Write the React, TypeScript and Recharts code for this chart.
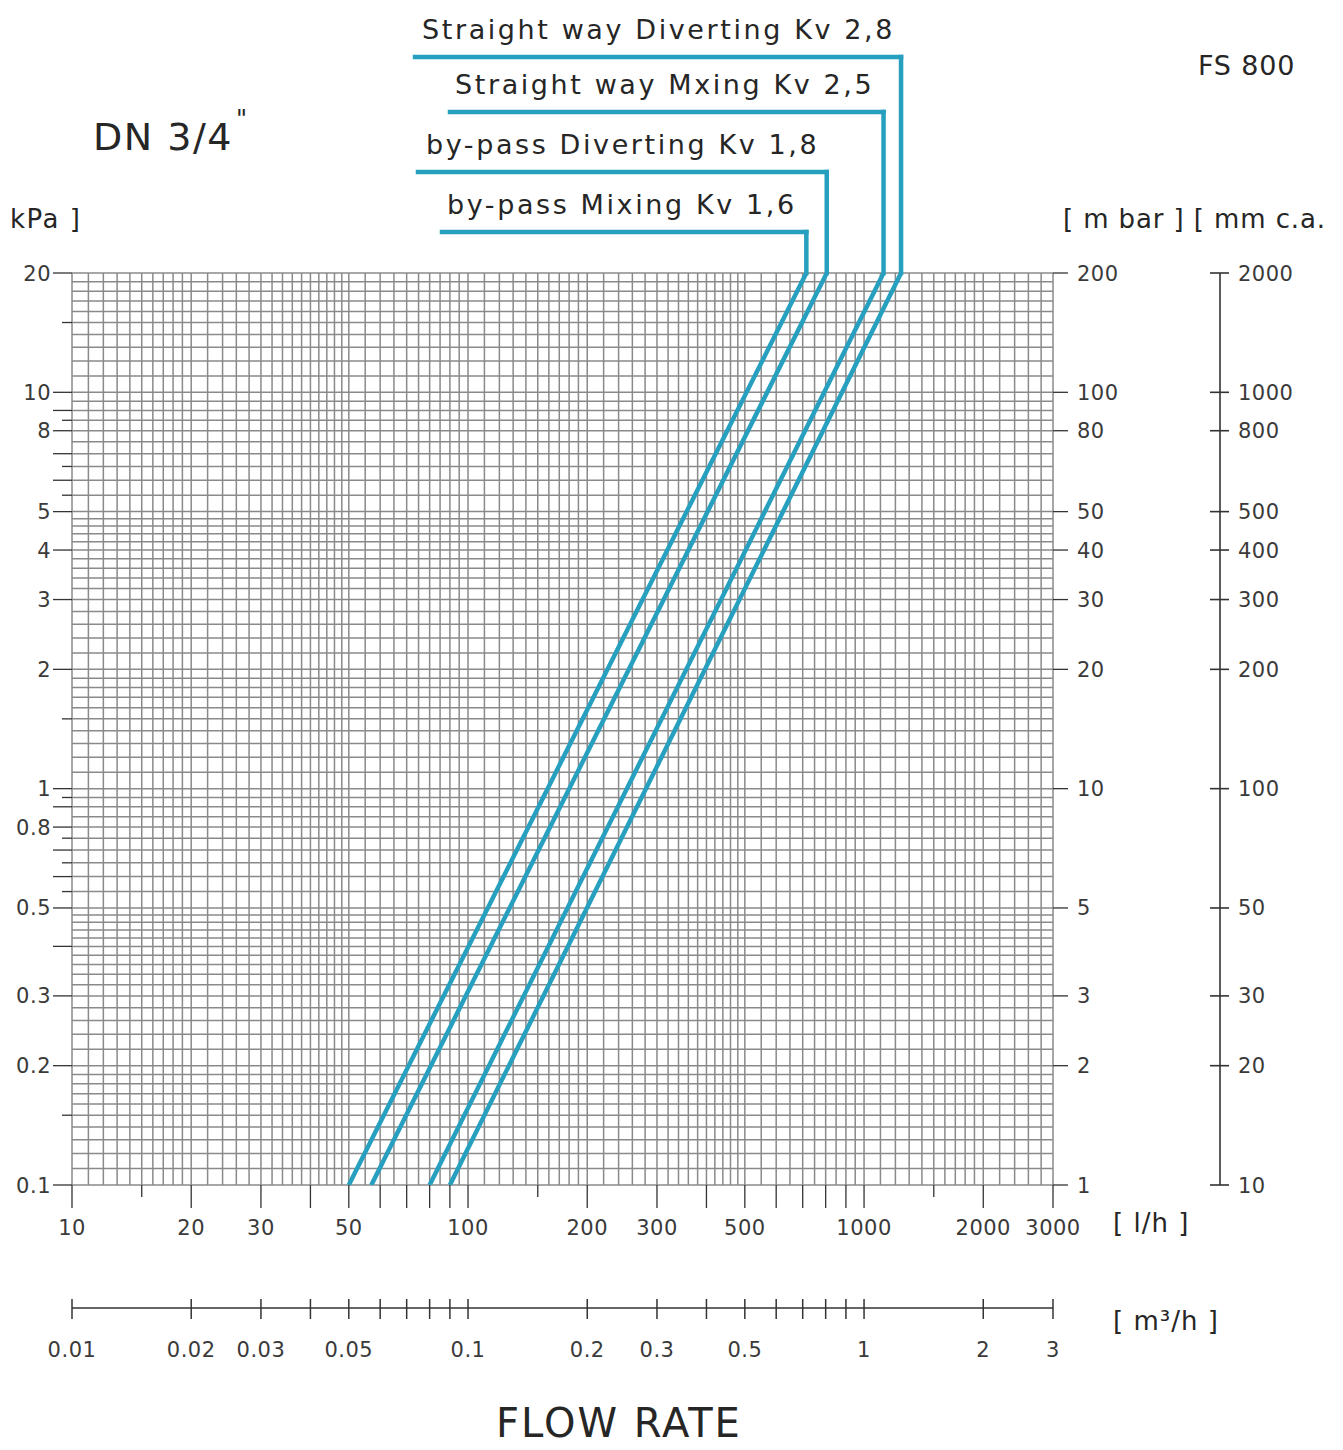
import React from 'react';
import { ComposedChart, Line, XAxis, YAxis, CartesianGrid, ReferenceLine } from 'recharts';

// flow [l/h] vs pressure drop [kPa], end points (straight on log-log)
const bypassMixing = [
  { q: 50, dp: 0.1 },
  { q: 715, dp: 20 },
];
const bypassDiverting = [
  { q: 57, dp: 0.1 },
  { q: 805, dp: 20 },
];
const straightMixing = [
  { q: 80, dp: 0.1 },
  { q: 1120, dp: 20 },
];
const straightDiverting = [
  { q: 90, dp: 0.1 },
  { q: 1240, dp: 20 },
];

const seriesNames = [
  'by-pass Mixing Kv 1,6',
  'by-pass Diverting Kv 1,8',
  'Straight way Mxing Kv 2,5',
  'Straight way Diverting Kv 2,8',
];
const seriesData = [bypassMixing, bypassDiverting, straightMixing, straightDiverting];

const flowDomain = [10, 3000];
const kpaDomain = [0.1, 20];
const mbarDomain = [1, 200];
const mmcaDomain = [10, 2000];
const m3hDomain = [0.01, 3];

// log paper subdivisions inside one decade
const gridSteps = [
  1, 1.1, 1.2, 1.3, 1.4, 1.5, 1.6, 1.7, 1.8, 1.9,
  2, 2.2, 2.4, 2.6, 2.8, 3, 3.2, 3.4, 3.6, 3.8, 4, 4.2, 4.4, 4.6, 4.8,
  5, 5.5, 6, 6.5, 7, 7.5, 8, 8.5, 9, 9.5,
];
const flowDecades = [10, 100, 1000];
const kpaDecades = [0.1, 1, 10];

const flowLabels = [10, 20, 30, 50, 100, 200, 300, 500, 1000, 2000, 3000];
const flowLongTicks = [40, 60, 70, 80, 90, 400, 600, 700, 800, 900];
const flowShortTicks = [15, 150, 1500];

const kpaLabels = [0.1, 0.2, 0.3, 0.5, 0.8, 1, 2, 3, 4, 5, 8, 10, 20];
const kpaLongTicks = [0.4, 0.6, 0.7, 0.9, 6, 7, 9];
const kpaShortTicks = [0.15, 0.45, 0.55, 0.65, 0.75, 0.95, 1.5, 4.5, 5.5, 6.5, 8.5, 15];

const mbarLabels = [1, 2, 3, 5, 10, 20, 30, 40, 50, 80, 100, 200];
const mmcaLabels = [10, 20, 30, 50, 100, 200, 300, 400, 500, 800, 1000, 2000];
const m3hTicks = [
  0.01, 0.02, 0.03, 0.04, 0.05, 0.06, 0.07, 0.08, 0.09,
  0.1, 0.2, 0.3, 0.4, 0.5, 0.6, 0.7, 0.8, 0.9, 1, 2, 3,
];
const m3hLabels = [0.01, 0.02, 0.03, 0.05, 0.1, 0.2, 0.3, 0.5, 1, 2, 3];

// ---- layout ----
const W = 1343;
const H = 1450;
const PLOT_LEFT = 72;
const PLOT_TOP = 273;
const PLOT_RIGHT = 1053;
const PLOT_BOTTOM = 1185;
const LEFT_AXIS_W = 60;
const MBAR_W = 167;
const MMCA_W = 100;
const FLOW_AXIS_H = 123;
const M3_AXIS_H = 60;

const LINE_COLOR = '#279fbf';
const GRID_COLOR = '#8a8a8a';
const AXIS_COLOR = '#333';
const TEXT_COLOR = '#3a3a3a';
const FONT = '"DejaVu Sans", sans-serif';

// leader lines of the curve labels (pixel rows / start columns)
const leaderY = [232, 172, 112, 57];
const leaderX0 = [442, 418, 450, 415];
const leaderTextX = [447, 426, 455, 422];

const rnd = (v: number) => parseFloat(v.toPrecision(6));
const has = (list: number[], v: number) => list.some((t) => Math.abs(t - v) < 1e-9);

const buildGrid = (decades: number[], max: number) =>
  decades
    .flatMap((d) => gridSteps.map((s) => rnd(s * d)))
    .concat([max])
    .filter((v, i, a) => v <= max && a.indexOf(v) === i);

const flowGrid = buildGrid(flowDecades, flowDomain[1]);
const kpaGrid = buildGrid(kpaDecades, kpaDomain[1]);

const invLog = (p: number, d0: number, d1: number, p0: number, p1: number) =>
  d0 * Math.pow(d1 / d0, (p - p0) / (p1 - p0));
const kpaAtPx = (py: number) => invLog(py, kpaDomain[0], kpaDomain[1], PLOT_BOTTOM, PLOT_TOP);
const flowAtPx = (px: number) => invLog(px, flowDomain[0], flowDomain[1], PLOT_LEFT, PLOT_RIGHT);

const tickText = {
  fill: TEXT_COLOR,
  fontFamily: FONT,
  fontSize: 21,
  letterSpacing: 0.5,
};

const FlowTick = (p: any) => {
  const v = rnd(p.payload.value);
  const isLabel = has(flowLabels, v);
  const len = isLabel || has(flowLongTicks, v) ? 23 : has(flowShortTicks, v) ? 12 : 0;
  if (!len) return <g />;
  return (
    <g>
      <line x1={p.x} x2={p.x} y1={p.y} y2={p.y + len} stroke={AXIS_COLOR} strokeWidth={1.3} />
      {isLabel && (
        <text x={p.x} y={p.y + 50} textAnchor="middle" {...tickText}>
          {v}
        </text>
      )}
    </g>
  );
};

const KpaTick = (p: any) => {
  const v = rnd(p.payload.value);
  const isLabel = has(kpaLabels, v);
  const len = isLabel || has(kpaLongTicks, v) ? 19 : has(kpaShortTicks, v) ? 10 : 0;
  if (!len) return <g />;
  return (
    <g>
      <line x1={p.x - len} x2={p.x} y1={p.y} y2={p.y} stroke={AXIS_COLOR} strokeWidth={1.3} />
      {isLabel && (
        <text x={p.x - 21} y={p.y + 7.5} textAnchor="end" {...tickText}>
          {v}
        </text>
      )}
    </g>
  );
};

const MbarTick = (p: any) => (
  <g>
    <line x1={p.x} x2={p.x + 15} y1={p.y} y2={p.y} stroke={AXIS_COLOR} strokeWidth={1.3} />
    <text x={p.x + 24} y={p.y + 7.5} textAnchor="start" {...tickText}>
      {rnd(p.payload.value)}
    </text>
  </g>
);

const MmcaTick = (p: any) => (
  <g>
    <line x1={p.x - 10} x2={p.x + 9} y1={p.y} y2={p.y} stroke={AXIS_COLOR} strokeWidth={1.6} />
    <text x={p.x + 18} y={p.y + 7.5} textAnchor="start" {...tickText}>
      {rnd(p.payload.value)}
    </text>
  </g>
);

const M3Tick = (p: any) => {
  const v = rnd(p.payload.value);
  return (
    <g>
      <line x1={p.x} x2={p.x} y1={p.y - 9} y2={p.y + 11} stroke={AXIS_COLOR} strokeWidth={1.5} />
      {has(m3hLabels, v) && (
        <text x={p.x} y={p.y + 49} textAnchor="middle" {...tickText}>
          {v}
        </text>
      )}
    </g>
  );
};

const headerText = {
  fill: '#262626',
  fontFamily: FONT,
};

// m3/h scale is the same flow, in cubic metres
const toM3h = (d: any) => d.q / 1000;

export default function App() {
  return (
    <div style={{ position: 'absolute', left: 0, top: 0, width: W, height: H, background: '#fff' }}>
      <ComposedChart
        width={W}
        height={H}
        margin={{
          top: PLOT_TOP,
          left: PLOT_LEFT - LEFT_AXIS_W,
          right: W - PLOT_RIGHT - MBAR_W - MMCA_W,
          bottom: H - PLOT_BOTTOM - FLOW_AXIS_H - M3_AXIS_H,
        }}
      >
        <CartesianGrid xAxisId="lh" yAxisId="kpa" stroke={GRID_COLOR} strokeWidth={1.5} />

        <XAxis
          xAxisId="lh"
          type="number"
          dataKey="q"
          scale="log"
          domain={flowDomain}
          allowDataOverflow
          ticks={flowGrid}
          interval={0}
          height={FLOW_AXIS_H}
          axisLine={false}
          tickLine={false}
          tickSize={0}
          tickMargin={0}
          tick={FlowTick}
        />
        <XAxis
          xAxisId="m3"
          type="number"
          dataKey={toM3h}
          scale="log"
          domain={m3hDomain}
          allowDataOverflow
          ticks={m3hTicks}
          interval={0}
          height={M3_AXIS_H}
          axisLine={{ stroke: AXIS_COLOR, strokeWidth: 1.5 }}
          tickLine={false}
          tickSize={0}
          tickMargin={0}
          tick={M3Tick}
        />
        <YAxis
          yAxisId="kpa"
          type="number"
          dataKey="dp"
          scale="log"
          domain={kpaDomain}
          allowDataOverflow
          ticks={kpaGrid}
          interval={0}
          width={LEFT_AXIS_W}
          axisLine={false}
          tickLine={false}
          tickSize={0}
          tickMargin={0}
          tick={KpaTick}
        />
        <YAxis
          yAxisId="mbar"
          orientation="right"
          type="number"
          scale="log"
          domain={mbarDomain}
          allowDataOverflow
          ticks={mbarLabels}
          interval={0}
          width={MBAR_W}
          axisLine={false}
          tickLine={false}
          tickSize={0}
          tickMargin={0}
          tick={MbarTick}
        />
        <YAxis
          yAxisId="mmca"
          orientation="right"
          type="number"
          scale="log"
          domain={mmcaDomain}
          allowDataOverflow
          ticks={mmcaLabels}
          interval={0}
          width={MMCA_W}
          axisLine={{ stroke: AXIS_COLOR, strokeWidth: 1.6 }}
          tickLine={false}
          tickSize={0}
          tickMargin={0}
          tick={MmcaTick}
        />

        {/* same curves on the m3/h scale, kept invisible so that axis gets its data */}
        {seriesData.map((d, i) => (
          <Line
            key={'m3' + seriesNames[i]}
            data={d}
            xAxisId="m3"
            yAxisId="kpa"
            dataKey="dp"
            stroke="none"
            dot={false}
            legendType="none"
            isAnimationActive={false}
          />
        ))}

        {seriesData.map((d, i) => (
          <Line
            key={seriesNames[i]}
            name={seriesNames[i]}
            data={d}
            xAxisId="lh"
            yAxisId="kpa"
            dataKey="dp"
            type="linear"
            stroke={LINE_COLOR}
            strokeWidth={4.5}
            dot={false}
            isAnimationActive={false}
          />
        ))}

        {seriesData.map((d, i) => {
          const top = d[d.length - 1];
          const level = kpaAtPx(leaderY[i]);
          return (
            <React.Fragment key={'lead' + i}>
              <ReferenceLine
                xAxisId="lh"
                yAxisId="kpa"
                ifOverflow="visible"
                segment={[
                  { x: flowAtPx(leaderX0[i]), y: level },
                  { x: top.q, y: level },
                ]}
                stroke={LINE_COLOR}
                strokeWidth={4.5}
                strokeLinecap="square"
              />
              <ReferenceLine
                xAxisId="lh"
                yAxisId="kpa"
                ifOverflow="visible"
                segment={[
                  { x: top.q, y: level },
                  { x: top.q, y: top.dp },
                ]}
                stroke={LINE_COLOR}
                strokeWidth={4.5}
                strokeLinecap="square"
              />
            </React.Fragment>
          );
        })}
      </ComposedChart>

      <svg
        width={W}
        height={H}
        style={{ position: 'absolute', left: 0, top: 0, pointerEvents: 'none' }}
      >
        {seriesNames.map((n, i) => (
          <text
            key={n}
            x={leaderTextX[i]}
            y={leaderY[i] - 18}
            fontSize={27}
            letterSpacing={2.6}
            {...headerText}
          >
            {n}
          </text>
        ))}
        <text x={93} y={150} fontSize={38} letterSpacing={1.5} {...headerText}>
          DN 3/4
        </text>
        <text x={236} y={127} fontSize={24} {...headerText}>
          "
        </text>
        <text x={1198} y={75} fontSize={27} letterSpacing={0.8} {...headerText}>
          FS 800
        </text>
        <text x={10} y={228} fontSize={26} letterSpacing={1.5} {...headerText}>
          kPa ]
        </text>
        <text x={1063} y={228} fontSize={26} letterSpacing={0.9} {...headerText}>
          [ m bar ] [ mm c.a.
        </text>
        <text x={1113} y={1232} fontSize={26} letterSpacing={1} {...headerText}>
          [ l/h ]
        </text>
        <text x={1113} y={1330} fontSize={26} letterSpacing={1} {...headerText}>
          [ m³/h ]
        </text>
        <text x={619} y={1437} textAnchor="middle" fontSize={40} letterSpacing={2} {...headerText}>
          FLOW RATE
        </text>
      </svg>
    </div>
  );
}
